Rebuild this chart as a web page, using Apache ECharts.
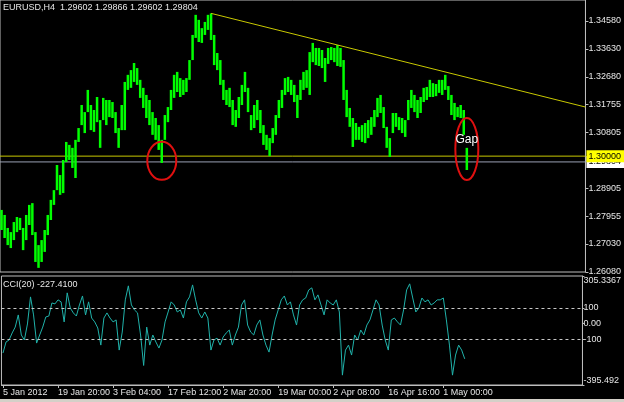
<!DOCTYPE html>
<html><head><meta charset="utf-8">
<script src="https://cdn.jsdelivr.net/npm/echarts@6/dist/echarts.min.js"></script>
<style>html,body{margin:0;padding:0;background:#000;overflow:hidden}#c{width:624px;height:402px}</style>
</head><body><div id="c"></div>
<script>
const FONT = "'Liberation Sans Narrow','Liberation Sans',Arial,sans-serif";

// x axis (bar index) tick labels
const xTickIndex = [0, 18, 36, 54, 72, 90, 108, 126, 144];
const xTickLabels = ['5 Jan 2012', '19 Jan 20:00', '3 Feb 04:00', '17 Feb 12:00', '2 Mar 20:00', '19 Mar 00:00', '2 Apr 08:00', '16 Apr 16:00', '1 May 00:00'];

// price axis
const priceMin = 1.26080, priceMax = 1.35282;
const priceTicks = [1.26080, 1.27030, 1.27955, 1.28905, 1.30805, 1.31755, 1.32680, 1.33630, 1.34580];

// CCI axis
const cciMin = -395.492, cciMax = 305.3367;
const cciTicks = [-395.492, -100, 0, 100, 305.3367];
const cciTickLabels = ['-395.492', '-100', '0.00', '100', '305.3367'];

// bar highs / lows (EURUSD H4, sampled)
const barHigh = [1.2818,1.2801,1.2757,1.2743,1.2777,1.2794,1.2791,1.2757,1.2801,1.2835,
1.2841,1.2743,1.2699,1.2716,1.2750,1.2801,1.2852,1.2885,1.2970,1.2936,
1.2987,1.3048,1.3038,1.3028,1.3055,1.3095,1.3173,1.3149,1.3224,1.3173,
1.3156,1.3200,1.3122,1.3197,1.3190,1.3190,1.3183,1.3149,1.3095,1.3173,
1.3251,1.3275,1.3291,1.3315,1.3298,1.3258,1.3231,1.3207,1.3190,1.3149,
1.3129,1.3105,1.3055,1.3139,1.3166,1.3224,1.3275,1.3285,1.3264,1.3258,
1.3264,1.3325,1.3410,1.3478,1.3461,1.3433,1.3454,1.3478,1.3483,1.3410,
1.3349,1.3325,1.3258,1.3224,1.3231,1.3190,1.3156,1.3200,1.3241,1.3285,
1.3231,1.3139,1.3173,1.3190,1.3156,1.3105,1.3072,1.3061,1.3095,1.3139,
1.3190,1.3224,1.3264,1.3268,1.3258,1.3241,1.3207,1.3258,1.3285,1.3291,
1.3352,1.3383,1.3366,1.3366,1.3359,1.3332,1.3366,1.3369,1.3366,1.3376,
1.3366,1.3325,1.3224,1.3163,1.3129,1.3112,1.3099,1.3105,1.3112,1.3122,
1.3132,1.3156,1.3197,1.3207,1.3166,1.3099,1.3061,1.3146,1.3146,1.3132,
1.3129,1.3122,1.3190,1.3224,1.3207,1.3190,1.3200,1.3231,1.3234,1.3258,
1.3247,1.3244,1.3258,1.3258,1.3275,1.3237,1.3207,1.3180,1.3166,1.3173,
1.3156,1.3028];
const barLow = [1.2750,1.2723,1.2699,1.2689,1.2716,1.2743,1.2750,1.2682,1.2716,1.2767,
1.2733,1.2642,1.2622,1.2642,1.2676,1.2733,1.2784,1.2835,1.2885,1.2869,
1.2875,1.2980,1.2987,1.2960,1.2926,1.3048,1.3105,1.3078,1.3149,1.3088,
1.3082,1.3115,1.3028,1.3122,1.3105,1.3132,1.3129,1.3078,1.3028,1.3088,
1.3088,1.3224,1.3231,1.3251,1.3241,1.3197,1.3163,1.3129,1.3105,1.3072,
1.3055,1.3021,1.2977,1.3055,1.3115,1.3156,1.3197,1.3217,1.3200,1.3207,
1.3217,1.3258,1.3325,1.3400,1.3386,1.3383,1.3410,1.3427,1.3393,1.3308,
1.3291,1.3241,1.3190,1.3173,1.3166,1.3105,1.3099,1.3129,1.3173,1.3217,
1.3149,1.3088,1.3095,1.3122,1.3078,1.3038,1.3021,1.3000,1.3044,1.3072,
1.3129,1.3163,1.3207,1.3217,1.3207,1.3183,1.3129,1.3190,1.3224,1.3231,
1.3207,1.3318,1.3308,1.3305,1.3298,1.3251,1.3312,1.3325,1.3318,1.3305,
1.3302,1.3190,1.3132,1.3099,1.3031,1.3055,1.3055,1.3048,1.3044,1.3061,
1.3072,1.3099,1.3132,1.3146,1.3095,1.3028,1.2997,1.3078,1.3099,1.3088,
1.3078,1.3065,1.3122,1.3163,1.3149,1.3129,1.3146,1.3183,1.3190,1.3200,
1.3200,1.3203,1.3214,1.3207,1.3224,1.3190,1.3139,1.3122,1.3132,1.3129,
1.3072,1.2953];

// CCI(20) values
const cci = [-190,-119,-106,-61,-23,55,-74,-106,-3,171,
55,-126,-74,-23,42,48,132,126,152,139,
10,197,100,68,48,119,177,55,139,35,
10,-29,-139,35,68,35,10,23,-171,-55,
152,242,119,87,68,-74,-270,-23,-139,-74,
-119,-158,-106,10,74,139,119,74,87,35,
139,171,248,152,68,35,74,35,-171,-106,
-94,-139,-87,-61,-42,-139,-74,-23,119,152,
-10,-55,-74,-10,23,-74,-139,-184,-74,23,
87,152,177,119,139,55,-10,119,152,164,
216,229,152,184,119,55,152,132,119,152,
74,-332,-171,-139,-203,-74,-106,-42,-74,-10,
23,87,152,119,-10,-106,-171,23,35,10,
-10,87,216,255,164,74,100,164,139,152,
119,132,152,152,164,23,-139,-332,-203,-139,
-171,-227.41];

const levelPrice = 1.30000;
const bidPrice = 1.29804;
const trendStart = [68, 1.3483];
const trendEnd = [189.5, 1.3166];
const circled = [[52, 1.2984], [151, 1.3024]];
const gapNote = [[151, 1.3055, 'Gap']];
const nSlots = 190;

const chart = echarts.init(document.getElementById('c'), null, {renderer: 'canvas'});
const txt = {color: '#e6e6e6', fontSize: 9, fontFamily: FONT, fontWeight: 'normal'};
const frame = '#bdbdbd';

const bars = barHigh.map((h, i) => [i, h, barLow[i]]);
const cciData = cci.map((v, i) => [i, v]);

const priceTag = (v, bg) => ({show: true, distance: 1, formatter: () => v.toFixed(5),
  backgroundColor: bg, color: '#000', padding: [2, 4, 1, 2], fontSize: 9, fontFamily: FONT});
const hLine = (name, price, color, bg, z) => ({
  type: 'line', name, xAxisIndex: 0, yAxisIndex: 0, z,
  data: [[-0.5, price], [nSlots - 0.5, price]],
  symbol: 'none', silent: true, lineStyle: {color, width: 1},
  endLabel: priceTag(price, bg), labelLayout: {hideOverlap: false}
});

const option = {
  backgroundColor: '#000',
  animation: false,
  title: [
    {text: 'EURUSD,H4  1.29602 1.29866 1.29602 1.29804', left: 3, top: 3, padding: 0, textStyle: txt},
    {text: 'CCI(20) -227.4100', left: 3, top: 280, padding: 0, textStyle: txt}
  ],
  grid: [
    {left: -1, top: 0, width: 590, height: 272, show: true, borderColor: frame, borderWidth: 1},
    {left: -1, top: 276, width: 590, height: 109, show: true, borderColor: frame, borderWidth: 1}
  ],
  xAxis: [
    {gridIndex: 0, type: 'value', min: -0.5, max: nSlots - 0.5, show: false},
    {gridIndex: 1, type: 'value', min: -0.5, max: nSlots - 0.5, position: 'bottom',
      axisLine: {show: true, onZero: false, lineStyle: {color: frame}},
      axisTick: {show: true, customValues: xTickIndex, length: 3, lineStyle: {color: frame}},
      axisLabel: {customValues: xTickIndex, align: 'left', margin: 3, ...txt,
        formatter: v => xTickLabels[xTickIndex.indexOf(Math.round(v))]},
      splitLine: {show: false}}
  ],
  yAxis: [
    {gridIndex: 0, type: 'value', min: priceMin, max: priceMax, position: 'right',
      axisLine: {show: true, onZero: false, lineStyle: {color: frame}},
      axisTick: {show: true, customValues: priceTicks, length: 3, lineStyle: {color: frame}},
      axisLabel: {customValues: priceTicks, margin: 3, ...txt, formatter: v => v.toFixed(5)},
      splitLine: {show: false}},
    {gridIndex: 1, type: 'value', min: cciMin, max: cciMax, position: 'right',
      axisLine: {show: true, onZero: false, lineStyle: {color: frame}},
      axisTick: {show: true, customValues: cciTicks, length: 2, lineStyle: {color: frame}},
      axisLabel: {customValues: cciTicks, margin: 1, ...txt,
        verticalAlignMinLabel: 'bottom', verticalAlignMaxLabel: 'top',
        formatter: v => {
          let k = 0, d = Infinity;
          cciTicks.forEach((t, j) => { if (Math.abs(t - v) < d) { d = Math.abs(t - v); k = j; } });
          return cciTickLabels[k];
        }},
      splitLine: {show: false}}
  ],
  series: [
    hLine('bid', bidPrice, '#9aa0b4', '#ffffff', 2),
    hLine('level', levelPrice, '#c8c800', '#ffff00', 2),
    {
      type: 'custom', name: 'EURUSD', xAxisIndex: 0, yAxisIndex: 0, data: bars,
      encode: {x: 0, y: [1, 2]}, clip: true, z: 3,
      renderItem: (params, api) => {
        const hi = api.coord([api.value(0), api.value(1)]);
        const lo = api.coord([api.value(0), api.value(2)]);
        return {type: 'rect', shape: {x: hi[0] - 1.25, y: hi[1], width: 2.5, height: Math.max(1, lo[1] - hi[1])},
          style: {fill: '#00ff00'}};
      }
    },
    {
      type: 'line', name: 'trend', xAxisIndex: 0, yAxisIndex: 0, data: [trendStart, trendEnd],
      symbol: 'none', z: 4, silent: true, lineStyle: {color: '#c8c800', width: 1}
    },
    {
      type: 'custom', name: 'circles', xAxisIndex: 0, yAxisIndex: 0, data: circled, z: 5,
      renderItem: (params, api) => {
        const c = api.coord([api.value(0), api.value(1)]);
        const r = params.dataIndex === 0 ? [14.5, 19] : [11.5, 31];
        return {type: 'ellipse', shape: {cx: c[0], cy: c[1], rx: r[0], ry: r[1]},
          style: {fill: null, stroke: '#e01010', lineWidth: 2}};
      }
    },
    {
      type: 'custom', name: 'note', xAxisIndex: 0, yAxisIndex: 0, data: gapNote, z: 6,
      renderItem: (params, api) => {
        const c = api.coord([api.value(0), api.value(1)]);
        return {type: 'text', x: c[0], y: c[1], style: {text: gapNote[params.dataIndex][2], fill: '#ffffff',
          font: "12px 'Liberation Sans', Arial, sans-serif", align: 'center', verticalAlign: 'middle'}};
      }
    },
    {
      type: 'line', name: 'CCI(20)', xAxisIndex: 1, yAxisIndex: 1, data: cciData,
      symbol: 'none', z: 3, lineStyle: {color: '#20b2aa', width: 1},
      markLine: {
        symbol: 'none', silent: true, animation: false, label: {show: false},
        lineStyle: {color: '#c8c8c8', width: 1, type: [3, 3]},
        data: [{yAxis: 100}, {yAxis: -100}]
      }
    }
  ],
  graphic: [
    {type: 'rect', left: 0, top: 399, shape: {width: 624, height: 3}, style: {fill: '#d4d0c8'}, silent: true}
  ]
};
chart.setOption(option);
</script>
</body></html>
